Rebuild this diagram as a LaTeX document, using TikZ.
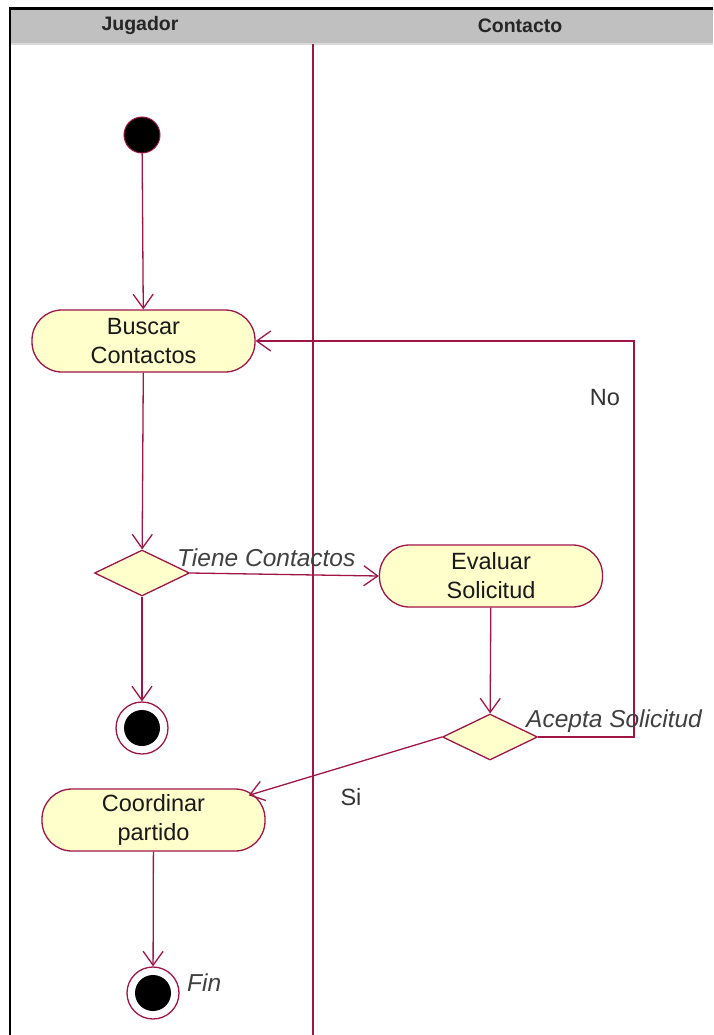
\documentclass[tikz,border=0pt]{standalone}
\usepackage{fontspec}
\setmainfont{Liberation Sans}
\usetikzlibrary{shapes.geometric,arrows.meta}
\definecolor{rose}{RGB}{160,20,70}
\definecolor{act}{RGB}{255,255,204}
\definecolor{hdr}{RGB}{192,192,192}
\tikzset{
  actbox/.style={draw=rose,line width=1.3pt,fill=act,rounded corners=30pt,minimum width=223pt,minimum height=62pt,inner sep=0pt,align=center,font=\fontsize{23.5}{29}\selectfont,text=black!90},
  decision/.style={draw=rose,line width=1.3pt,fill=act,diamond,aspect=2,minimum width=95pt,minimum height=46pt,inner sep=0pt},
  startnode/.style={circle,draw=rose,line width=1pt,fill=black,minimum size=36pt,inner sep=0pt},
  endouter/.style={circle,draw=rose,line width=1.3pt,fill=white,minimum size=52pt,inner sep=0pt},
  endinner/.style={circle,fill=black,minimum size=36pt,inner sep=0pt},
  flow/.style={draw=rose,line width=1.3pt,-{Straight Barb[length=14pt,width=20pt,line width=1.3pt]}},
  guard/.style={font=\fontsize{24.5}{28}\selectfont\itshape,text=black!75,inner sep=0pt},
  lbl/.style={font=\fontsize{23.5}{28}\selectfont,text=black!80,inner sep=0pt},
  lanehead/.style={font=\fontsize{19.5}{22}\selectfont\bfseries,text=black!85,inner sep=0pt}
}
\begin{document}
\begin{tikzpicture}[x=1pt,y=-1pt]
\useasboundingbox (0,0) rectangle (713,1035);
% header
\fill[hdr] (10,10) rectangle (713,43);
\draw[black!15,line width=1.5pt] (10,44) -- (713,44);
\draw[black,line width=3pt] (8.5,9) -- (713,9);
\draw[black,line width=2pt] (10,9) -- (10,1035);
\node[lanehead] (hj) at (140,26) {Jugador};
\node[lanehead] (hc) at (520,26) {Contacto};
% lane divider
\draw[rose,line width=1.3pt] (313,44) -- (313,1035);
% nodes
\node[startnode] (start) at (142,135) {};
\node[actbox] (buscar) at (143.5,341) {Buscar\\Contactos};
\node[decision] (d1) at (142,573) {};
\node[endouter] (end1) at (142,728) {};
\node[endinner] (end1i) at (142,728) {};
\node[actbox] (eval) at (491,576) {Evaluar\\Solicitud};
\node[decision] (d2) at (490,737) {};
\node[actbox] (coord) at (153.5,820) {Coordinar\\partido};
\node[endouter] (end2) at (153,993) {};
\node[endinner] (end2i) at (153,993) {};
\coordinate (corner) at (634,341);
% connectors
\draw[flow] (start) -- (buscar);
\draw[flow] (buscar) -- (d1);
\draw[flow] (d1.east) -- (eval.west);
\draw[flow] (d1.south) -- (end1);
\draw[flow] (eval) -- (d2);
\draw[flow] (d2.east) -| (corner) -- (buscar.east);
\draw[flow] (d2.west) -- ([shift={(-17,7)}]coord.north east);
\draw[flow] (coord) -- (end2);
% labels
\node[guard,anchor=west] (g1) at (177,558) {Tiene Contactos};
\node[guard,anchor=west] (g2) at (526,721) {Acepta Solicitud};
\node[lbl] (no) at (605,398) {No};
\node[lbl] (si) at (351,797) {Si};
\node[guard,anchor=west] (fin) at (187,983) {Fin};
\end{tikzpicture}
\end{document}
